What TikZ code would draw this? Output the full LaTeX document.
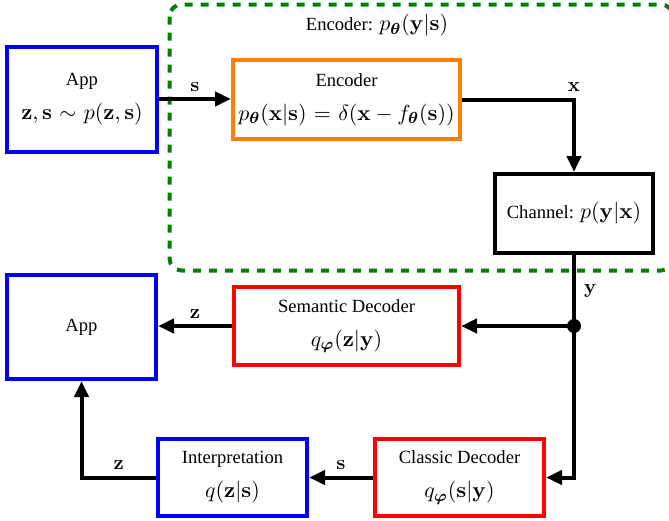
\documentclass[tikz,border=0pt]{standalone}
\usepackage[no-math]{fontspec}
\setmainfont{Liberation Serif}
\usepackage{amsmath,bm}
\usetikzlibrary{arrows.meta}
\definecolor{appblue}{RGB}{0,0,255}
\definecolor{encorange}{RGB}{255,128,0}
\definecolor{decred}{RGB}{255,0,0}
\definecolor{grpgreen}{RGB}{0,128,0}
\newcommand{\mymath}[1]{{\fontsize{11}{13}\selectfont$#1$}}
\newcommand{\mylab}[1]{{\fontsize{10}{12}\selectfont$#1$}}
\thickmuskip=6mu plus 2mu
\begin{document}
\begin{tikzpicture}[x=0.5pt,y=-0.5pt,
  font=\fontsize{9.3}{11}\selectfont,
  box/.style={draw, line width=2pt, align=center, inner sep=0pt},
  conn/.style={line width=2pt, -{Triangle[length=8pt,width=7pt]}},
  wire/.style={line width=2pt},
  lab/.style={inner sep=3pt},
  group/.style={draw=grpgreen, line width=2pt, dash pattern=on 4pt off 4pt, rounded corners=6pt}]
\useasboundingbox (0,0) rectangle (669,520);
% group
\draw[group] (169.5,4.5) rectangle (673,270.5);
\node (glab) at (377,25) {Encoder: \mymath{p_{\bm{\theta}}(\mathbf{y}|\mathbf{s})}};
% nodes
\node[box, draw=appblue, minimum width=75pt, minimum height=52.5pt] (app1) at (82,99)
  {App\\[6pt]\mymath{\mathbf{z},\mathbf{s}\sim p(\mathbf{z},\mathbf{s})}};
\node[box, draw=encorange, minimum width=113.5pt, minimum height=39.5pt] (enc) at (346.5,99.5)
  {Encoder\\[6pt]\mymath{p_{\bm{\theta}}(\mathbf{x}|\mathbf{s})=\delta(\mathbf{x}-f_{\bm{\theta}}(\mathbf{s}))}};
\node[box, draw=black, minimum width=79pt, minimum height=39.5pt] (chan) at (574,213.5)
  {Channel: \mymath{p(\mathbf{y}|\mathbf{x})}};
\node[box, draw=decred, minimum width=112.5pt, minimum height=39pt] (sem) at (346.5,326)
  {Semantic Decoder\\[6pt]\mymath{q_{\bm{\varphi}}(\mathbf{z}|\mathbf{y})}};
\node[box, draw=appblue, minimum width=74.5pt, minimum height=52pt] (app2) at (81.5,327)
  {App};
\node[box, draw=decred, minimum width=84.5pt, minimum height=38.5pt] (cls) at (459.5,477.5)
  {Classic Decoder\\[6pt]\mymath{q_{\bm{\varphi}}(\mathbf{s}|\mathbf{y})}};
\node[box, draw=appblue, minimum width=74.5pt, minimum height=38.5pt] (intp) at (232.5,477.5)
  {Interpretation\\[6pt]\mymath{q(\mathbf{z}|\mathbf{s})}};
% connectors
\draw[conn] (app1.east) -- (app1.east -| enc.west) node[midway, above, lab] {\mylab{\mathbf{s}}};
\draw[conn] (enc.east) -| node[pos=0.5, above, lab] {\mylab{\mathbf{x}}} (chan.north);
\coordinate (dot) at (chan.south |- sem.east);
\draw[wire] (chan.south) -- (dot) node[midway, right, inner sep=4pt] {\mylab{\mathbf{y}}};
\fill (dot) circle (3.5pt);
\draw[conn] (dot) -- (sem.east);
\draw[conn] (dot) |- (cls.east);
\draw[conn] (sem.west) -- (app2.east |- sem.west) node[midway, above, lab] {\mylab{\mathbf{z}}};
\draw[conn] (cls.west) -- (intp.east) node[midway, above, lab] {\mylab{\mathbf{s}}};
\draw[conn] (intp.west) -| node[pos=0.25, above, lab] {\mylab{\mathbf{z}}} (app2.south);
\end{tikzpicture}
\end{document}
